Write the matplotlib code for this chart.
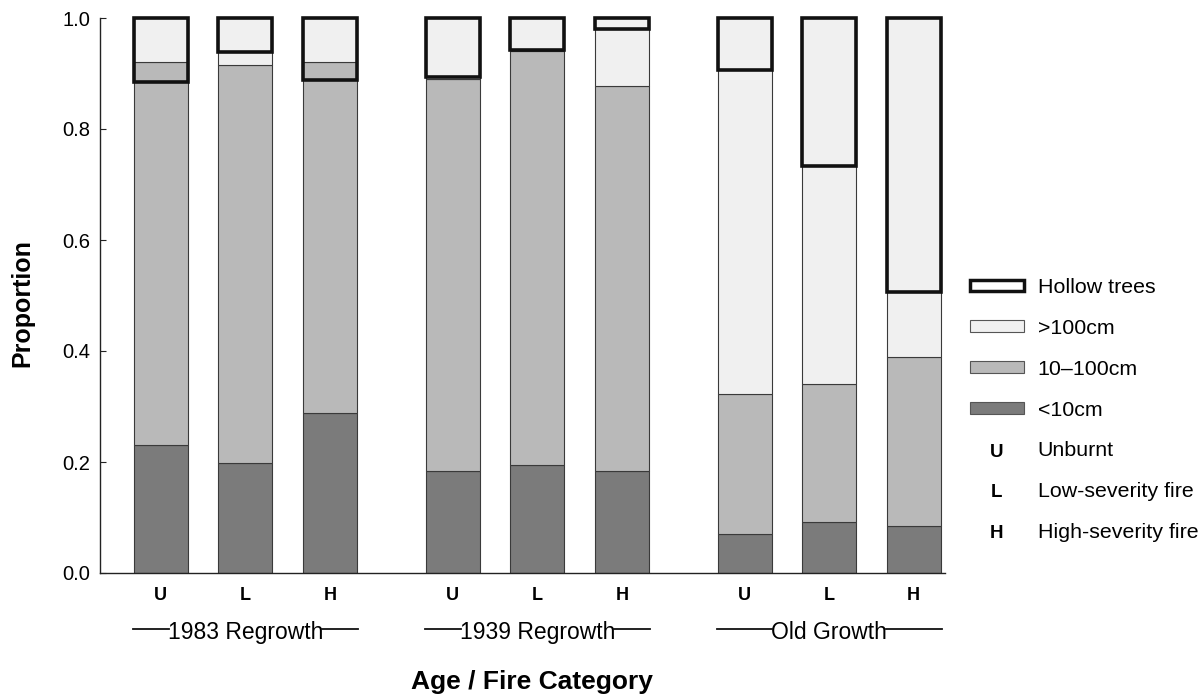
import numpy as np
import matplotlib
matplotlib.use('Agg')
import matplotlib.pyplot as plt
import matplotlib.text as mtext
from matplotlib.patches import Patch
from matplotlib.lines import Line2D

plt.rcParams['font.family'] = ['Liberation Sans', 'DejaVu Sans']

groups = ['1983 Regrowth', '1939 Regrowth', 'Old Growth']
fire = ['U', 'L', 'H']
fire_names = ['Unburnt', 'Low-severity fire', 'High-severity fire']

# proportions per size class, bars in order 1983 U/L/H, 1939 U/L/H, Old U/L/H
lt10 = np.array([0.230, 0.198, 0.288, 0.184, 0.195, 0.184, 0.070, 0.091, 0.085])
mid10_100 = np.array([0.691, 0.717, 0.632, 0.706, 0.745, 0.694, 0.252, 0.249, 0.304])
gt100 = 1 - lt10 - mid10_100
hollow = np.array([0.116, 0.061, 0.112, 0.106, 0.058, 0.020, 0.093, 0.267, 0.494])

c_dark, c_mid, c_light = '#7b7b7b', '#b9b9b9', '#f0f0f0'
edge = '#3a3a3a'

W, H = 1204, 695
fig = plt.figure(figsize=(W/100, H/100), dpi=100)
ax = fig.add_axes([100/W, 1-573/H, 845/W, 555/H])

pos = np.array([g*3.455 + i for g in range(3) for i in range(3)])
w = 0.64
ax.bar(pos, lt10, w, color=c_dark, edgecolor=edge, lw=0.8)
ax.bar(pos, mid10_100, w, bottom=lt10, color=c_mid, edgecolor=edge, lw=0.8)
ax.bar(pos, gt100, w, bottom=lt10+mid10_100, color=c_light, edgecolor=edge, lw=0.8)
hb = ax.bar(pos, hollow, w, bottom=1-hollow, fill=False, edgecolor='#111111', lw=2.6)
for r in hb:
    r.set_clip_on(False)
    r.set_joinstyle('miter')

ax.set_xlim(-0.72, pos[-1]+0.37)
ax.set_ylim(0, 1)
for s in ['top', 'right']:
    ax.spines[s].set_visible(False)
for s in ['left', 'bottom']:
    ax.spines[s].set_color('#222222')
    ax.spines[s].set_linewidth(1.0)

ax.set_yticks(np.arange(0, 1.01, 0.2))
ax.set_yticklabels(['%.1f' % v for v in np.arange(0, 1.01, 0.2)])
ax.tick_params(axis='y', direction='in', length=4, labelsize=14.5, pad=7, color='#222222')
ax.set_xticks(pos)
ax.set_xticklabels(fire*3, fontweight='bold', fontsize=13)
ax.tick_params(axis='x', length=0, pad=10)

# group labels with lines either side
tr = matplotlib.transforms.blended_transform_factory(ax.transData, fig.transFigure)
txts = []
for g, name in enumerate(groups):
    c = pos[3*g+1]
    t = ax.text(c, 1-639/H, name, transform=tr, ha='center', va='baseline', fontsize=16.5)
    txts.append((c, t))
fig.canvas.draw()
rend = fig.canvas.get_renderer()
for c, t in txts:
    bb = t.get_window_extent(rend)
    cx = ax.transData.transform((c, 0))[0]
    half = 112.5
    yl = 1 - 629/H
    fig.add_artist(Line2D([(cx-half)/W, (bb.x0+1)/W], [yl, yl], transform=fig.transFigure, color='#111111', lw=1.3))
    fig.add_artist(Line2D([(bb.x1-1)/W, (cx+half)/W], [yl, yl], transform=fig.transFigure, color='#111111', lw=1.3))

fig.text(532/W, 1-689/H, 'Age / Fire Category', ha='center', va='baseline', fontsize=19, fontweight='bold')
fig.text(22/W, 1-303/H, 'Proportion', ha='center', va='center', rotation=90, fontsize=18, fontweight='bold')


class Letter:
    def __init__(self, s):
        self.s = s


class LetterHandler:
    def legend_artist(self, legend, orig_handle, fontsize, handlebox):
        x0, y0 = handlebox.xdescent, handlebox.ydescent
        t = mtext.Text(x0 + handlebox.width/2, y0 + handlebox.height/2, orig_handle.s,
                       ha='center', va='center', fontsize=13.5, fontweight='bold')
        handlebox.add_artist(t)
        return t


handles = [Patch(facecolor='white', edgecolor='#111111', lw=2.5),
           Patch(facecolor=c_light, edgecolor='#555555', lw=0.8),
           Patch(facecolor=c_mid, edgecolor='#555555', lw=0.8),
           Patch(facecolor=c_dark, edgecolor='#555555', lw=0.8)] + [Letter(f) for f in fire]
labels = ['Hollow trees', '>100cm', '10\u2013100cm', '<10cm'] + fire_names
fig.legend(handles, labels, loc='center left', bbox_to_anchor=(970/W, 1-410/H),
           bbox_transform=fig.transFigure, frameon=False, borderpad=0, borderaxespad=0,
           handlelength=2.52, handleheight=0.47, handletextpad=0.65, labelspacing=1.02,
           fontsize=15.4, handler_map={Letter: LetterHandler()})

fig.savefig('out.png', dpi=100)
